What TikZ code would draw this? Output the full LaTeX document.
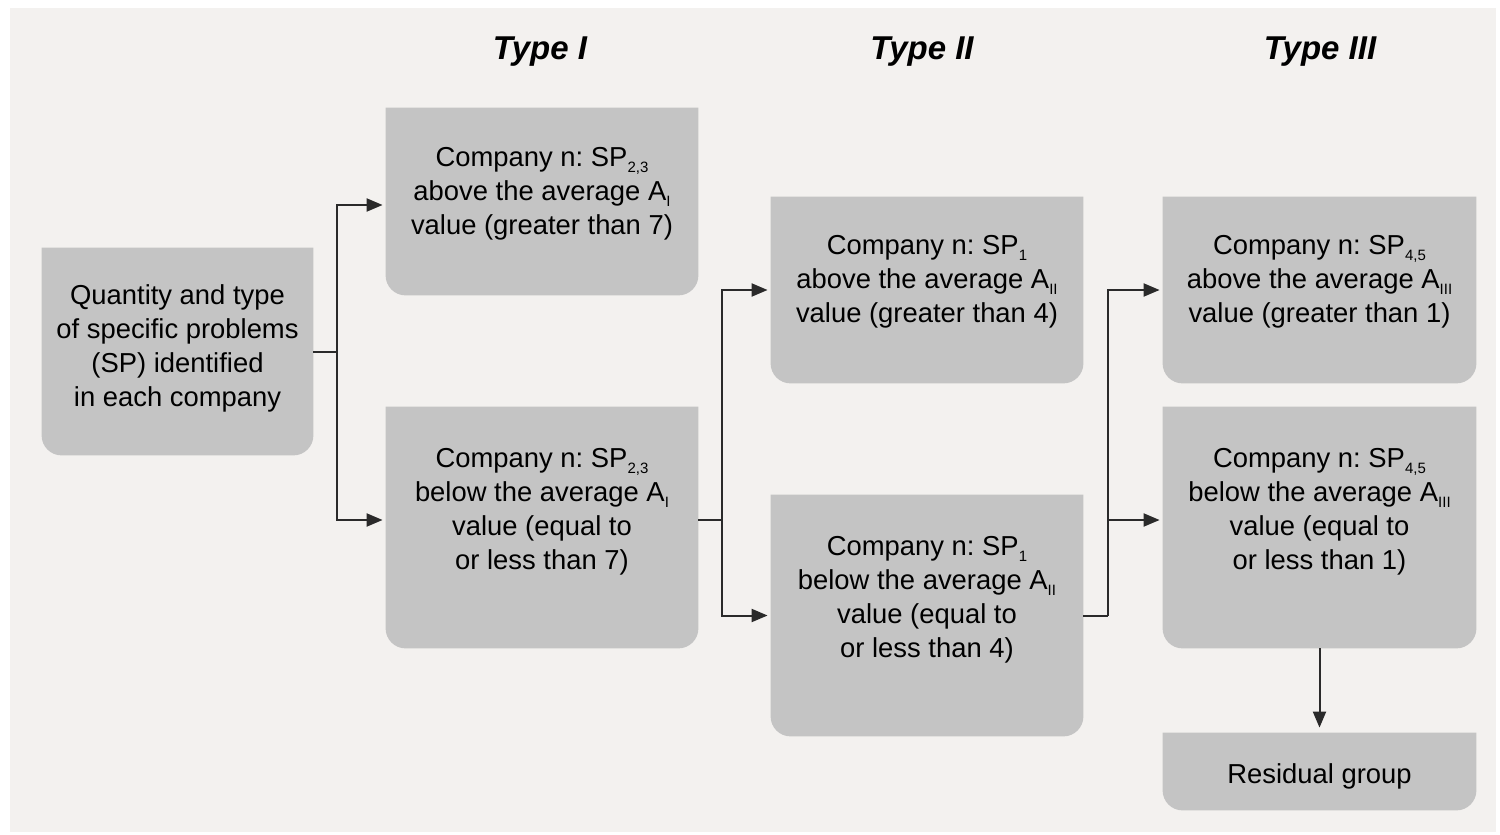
\documentclass[tikz,border=0pt]{standalone}
\usepackage{fontspec}
\setmainfont{Liberation Sans}
\usetikzlibrary{arrows.meta,backgrounds}
\definecolor{pagebg}{HTML}{F3F1EF}
\definecolor{boxgray}{HTML}{C4C4C4}
\definecolor{linec}{HTML}{2A2A2A}
\newcommand\lowidx[1]{\raisebox{-3pt}{\fontsize{7.5}{7.5}\selectfont #1}}
\newcommand\boxbg[1]{\fill[boxgray] (#1.north west) -- (#1.north east) -- ([yshift=10pt]#1.south east) arc[start angle=0,end angle=-90,radius=10pt] -- ([xshift=10pt]#1.south west) arc[start angle=270,end angle=180,radius=10pt] -- cycle;}
\frenchspacing
\begin{document}
\begin{tikzpicture}[x=0.5pt,y=-0.5pt,
  box/.style={inner sep=0pt, align=center, font=\fontsize{13.7}{17}\selectfont, text=black},
  wbox/.style={box, minimum width=156pt},
  title/.style={font=\fontsize{16.5}{18}\selectfont\bfseries\itshape},
  conn/.style={draw=linec, line width=1pt},
  arr/.style={conn, -{Triangle[length=8pt,width=6.5pt]}, shorten >=1.5pt}]
\useasboundingbox (0,0) rectangle (1500,835);

\node[title] (t1) at (540,52) {Type I};
\node[title] (t2) at (922,52) {Type II};
\node[title] (t3) at (1320,52) {Type III};

\node[box, minimum width=135.5pt, minimum height=103.5pt] (a) at (177.5,351.5)
  {Quantity and type\\of specific problems\\(SP) identified\\in each company\rule[-6pt]{0pt}{6pt}};
\node[wbox, minimum height=93.5pt] (b1) at (542,201.5)
  {Company n: SP\lowidx{2,3}\\above the average A\lowidx{I}\\value (greater than 7)\rule[-11pt]{0pt}{11pt}};
\node[wbox, minimum height=120.5pt] (b2) at (542,527.5)
  {Company n: SP\lowidx{2,3}\\below the average A\lowidx{I}\\value (equal to\\or less than 7)\rule[-19pt]{0pt}{19pt}};
\node[wbox, minimum height=93pt] (c1) at (927,290)
  {Company n: SP\lowidx{1}\\above the average A\lowidx{II}\\value (greater than 4)\rule[-11.5pt]{0pt}{11.5pt}};
\node[wbox, minimum height=120.5pt] (c2) at (927,615.5)
  {Company n: SP\lowidx{1}\\below the average A\lowidx{II}\\value (equal to\\or less than 4)\rule[-18.5pt]{0pt}{18.5pt}};
\node[box, minimum width=156.5pt, minimum height=93pt] (d1) at (1319.5,290)
  {Company n: SP\lowidx{4,5}\\above the average A\lowidx{III}\\value (greater than 1)\rule[-11.5pt]{0pt}{11.5pt}};
\node[box, minimum width=156.5pt, minimum height=120.5pt] (d2) at (1319.5,527.5)
  {Company n: SP\lowidx{4,5}\\below the average A\lowidx{III}\\value (equal to\\or less than 1)\rule[-19pt]{0pt}{19pt}};
\node[box, minimum width=156.5pt, minimum height=38.5pt] (e) at (1319.5,771.5)
  {\rule{0pt}{15pt}Residual group};

\begin{pgfonlayer}{background}
\fill[white] (0,0) rectangle (1500,835);
\fill[pagebg] (10,8) rectangle (1496,832);
\boxbg{a}\boxbg{b1}\boxbg{b2}\boxbg{c1}\boxbg{c2}\boxbg{d1}\boxbg{d2}\boxbg{e}
\end{pgfonlayer}

\coordinate (j1) at ([xshift=12pt]a.east);
\draw[conn] (a.east) -- (j1);
\draw[arr] (j1) |- ([yshift=-1.75pt]b1.west);
\draw[arr] (j1) |- ([yshift=3.75pt]b2.west);

\coordinate (j2) at ([xshift=12pt,yshift=3.75pt]b2.east);
\draw[conn] ([yshift=3.75pt]b2.east) -- (j2);
\draw[arr] (j2) |- (c1.west);
\draw[arr] (j2) |- (c2.west);

\coordinate (j3) at ([xshift=12.5pt]c2.east);
\draw[conn] (c2.east) -- (j3);
\draw[arr] (j3) |- (d1.west);
\draw[arr] (j3) |- ([yshift=3.75pt]d2.west);

\draw[arr, shorten >=2.5pt] (d2.south) -- (e.north);
\end{tikzpicture}
\end{document}
